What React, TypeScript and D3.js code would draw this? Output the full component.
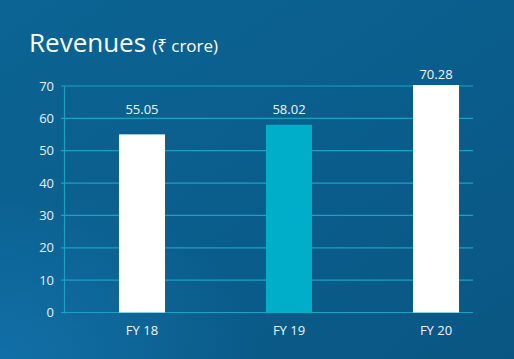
import React from "react";
import * as d3 from "d3";

const categories = ["FY 18", "FY 19", "FY 20"];
const revenues = [55.05, 58.02, 70.28];
const yTicks = [0, 10, 20, 30, 40, 50, 60, 70];
const highlight = "FY 19";

const W = 514;
const H = 359;

export default function App() {
  const x = d3.scaleBand<string>().domain(categories).range([64, 514]).paddingInner(0.687).paddingOuter(0.374);
  const y = d3.scaleLinear().domain([0, 70]).range([312.5, 86]);
  const gridRight = 473;
  const font = "'Open Sans', 'Noto Sans', sans-serif";
  return (
    <svg width={W} height={H} style={{ position: "absolute", left: 0, top: 0 }}>
      <defs>
        <linearGradient id="bg" x1="0" y1="0" x2="1" y2="1">
          <stop offset="0" stopColor="#0b6494" />
          <stop offset="0.5" stopColor="#0a5e8c" />
          <stop offset="1" stopColor="#0a5683" />
        </linearGradient>
        <radialGradient id="glow" cx="0" cy="1" r="0.5">
          <stop offset="0" stopColor="#1577b3" stopOpacity="0.7" />
          <stop offset="1" stopColor="#1577b3" stopOpacity="0" />
        </radialGradient>
      </defs>
      <rect width={W} height={H} fill="url(#bg)" />
      <rect width={W} height={H} fill="url(#glow)" />
      <text x={29} y={52} fill="#ffffff" fontFamily={font} fontSize={26}>
        Revenues
        <tspan fontSize={17} dx={6}>(₹ crore)</tspan>
      </text>
      {yTicks.map((t) => (
        <g key={t}>
          <line x1={61} x2={gridRight} y1={y(t)} y2={y(t)} stroke="#1ba2c2" strokeWidth={1.2} />
          <text x={54} y={y(t)} dy="0.35em" textAnchor="end" fill="#e6f2f8" fontFamily={font} fontSize={13}>
            {t}
          </text>
        </g>
      ))}
      <line x1={64.5} x2={64.5} y1={y(70)} y2={y(0) + 1} stroke="#1ba2c2" strokeWidth={1.2} />
      {categories.map((c, i) => {
        const v = revenues[i];
        const bx = x(c) as number;
        const labelY = Math.min(y(v) - 6, y(60) - 4);
        return (
          <g key={c}>
            <rect x={bx} y={y(v)} width={x.bandwidth()} height={y(0) - y(v)} fill={c === highlight ? "#00aec9" : "#ffffff"} />
            <text x={bx + x.bandwidth() / 2} y={labelY} textAnchor="middle" fill="#eef6fa" fontFamily={font} fontSize={13}>
              {v.toFixed(2)}
            </text>
            <text x={bx + x.bandwidth() / 2} y={335} textAnchor="middle" fill="#eef6fa" fontFamily={font} fontSize={13}>
              {c}
            </text>
          </g>
        );
      })}
    </svg>
  );
}
